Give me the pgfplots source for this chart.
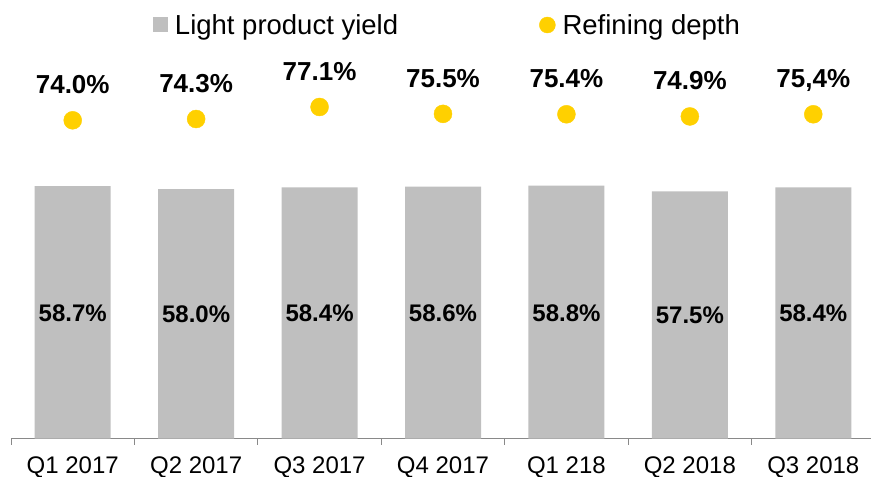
\documentclass[border=0pt]{standalone}
\usepackage{fontspec}
\setmainfont{Liberation Sans}
\usepackage{pgfplots}
\pgfplotsset{compat=1.18}
\usepackage{pgfplotstable}
\definecolor{barcol}{RGB}{191,191,191}
\definecolor{dotcol}{RGB}{255,208,0}
\definecolor{axcol}{RGB}{137,137,137}
\pgfplotstableread{
x bar dot barlbl dotlbl
0 58.7 74.0 58.7 74.0
1 58.0 74.3 58.0 74.3
2 58.4 77.1 58.4 77.1
3 58.6 75.5 58.6 75.5
4 58.8 75.4 58.8 75.4
5 57.5 74.9 57.5 74.9
6 58.4 75.4 58.4 75,4
}\datatable
\begin{document}
\begin{tikzpicture}
\useasboundingbox (0,0) rectangle (871pt,477pt);
\begin{axis}[
  at={(11pt,38.5pt)}, anchor=south west,
  scale only axis, width=864pt, height=387pt,
  xmin=-0.5, xmax=6.5, ymin=0, ymax=90,
  axis x line=bottom, axis y line=none,
  x axis line style={-, draw=axcol, line width=1pt},
  xtick={0,...,6},
  xticklabels={Q1 2017,Q2 2017,Q3 2017,Q4 2017,Q1 218,Q2 2018,Q3 2018},
  major tick length=0pt,
  minor xtick={-0.5,0.5,...,6.5},
  minor tick length=6pt,
  xtick align=outside,
  minor tick style={draw=axcol, line width=1pt},
  xticklabel style={font=\fontsize{24}{28}\selectfont, anchor=base, yshift=-35pt},
  clip=false,
  legend columns=2,
  legend cell align=left,
  legend style={at={(0.504,1.0685)}, anchor=center, draw=none, fill=none,
    font=\fontsize{27.5}{32}\selectfont, inner sep=0pt, nodes={inner sep=0pt},
    /tikz/every even column/.append style={column sep=141pt},
    /tikz/every odd column/.append style={column sep=7pt}},
]
\addplot[ybar, bar width=76pt, fill=barcol, draw=none,
  legend image code/.code={\fill[barcol] (0pt,-7.5pt) rectangle (15pt,7.5pt);}]
  table[x=x,y=bar]{\datatable};
\addlegendentry{Light product yield}
\addplot[only marks, mark=*, mark size=9pt, mark options={draw=dotcol, fill=dotcol},
  nodes near coords={\pgfplotspointmeta\%}, point meta=explicit symbolic,
  every node near coord/.append style={anchor=base, yshift=26.5pt, text=black,
    font=\bfseries\fontsize{26}{30}\selectfont},
  legend image code/.code={\fill[dotcol] (8pt,0pt) circle (8pt);}]
  table[x=x,y=dot,meta=dotlbl]{\datatable};
\addlegendentry{Refining depth}
\addplot[draw=none, mark=none, forget plot,
  nodes near coords={\pgfplotspointmeta\%}, point meta=explicit symbolic,
  every node near coord/.append style={anchor=base, yshift=-9pt, text=black,
    font=\bfseries\fontsize{24}{28}\selectfont}]
  table[x=x, y expr=\thisrow{bar}/2, meta=barlbl]{\datatable};
\end{axis}
\end{tikzpicture}
\end{document}
